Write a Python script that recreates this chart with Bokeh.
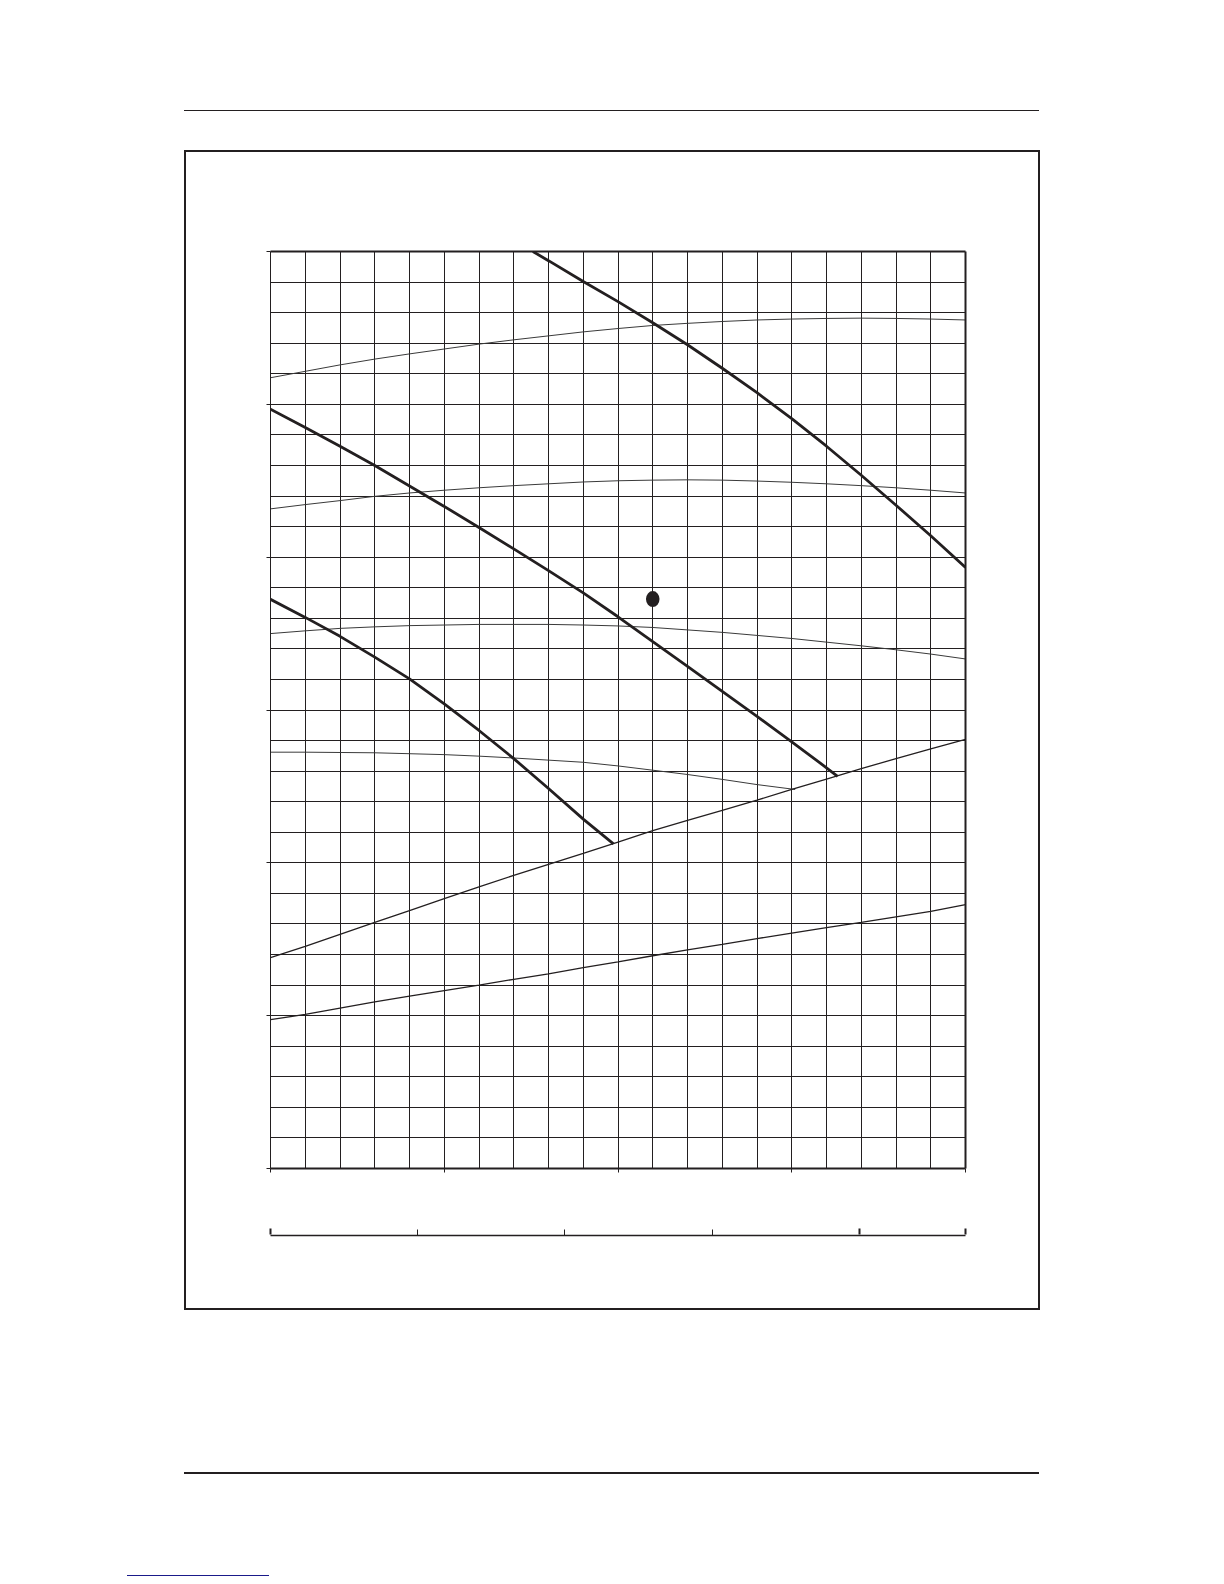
from bokeh.plotting import figure
from bokeh.models import Range1d, LinearAxis, FixedTicker, Div, Spacer
from bokeh.layouts import column, row
from bokeh.embed import file_html
from bokeh.resources import INLINE

INK = "#231f20"

# ---- data (grid units: x = columns 0..20, y = rows 0..30) ----
curve_a_x = [7.55, 8, 9, 10, 11, 12, 13, 14, 15, 16, 17, 18, 19, 20]
curve_a_y = [30.0, 29.7, 29.02, 28.36, 27.67, 26.95, 26.18, 25.38, 24.53, 23.63, 22.68, 21.7, 20.7, 19.66]

curve_b_x = [0, 1, 2, 3, 4, 5, 6, 7, 8, 9, 10, 11, 12, 13, 14, 15, 16, 16.32]
curve_b_y = [24.84, 24.24, 23.63, 23.0, 22.33, 21.66, 20.97, 20.27, 19.56, 18.83, 18.05, 17.24, 16.43, 15.61, 14.79, 13.96, 13.11, 12.83]

curve_c_x = [0, 1, 2, 3, 4, 5, 6, 7, 8, 9, 9.87]
curve_c_y = [18.62, 18.03, 17.41, 16.73, 16.02, 15.2, 14.33, 13.41, 12.43, 11.43, 10.62]

cols = list(range(21))
curve_d_y = [25.87, 26.08, 26.29, 26.48, 26.65, 26.81, 26.97, 27.11, 27.24, 27.37, 27.48,
             27.58, 27.65, 27.71, 27.76, 27.79, 27.81, 27.82, 27.81, 27.79, 27.76]
curve_e_y = [21.58, 21.72, 21.85, 21.99, 22.1, 22.19, 22.27, 22.34, 22.4, 22.46, 22.5,
             22.52, 22.53, 22.52, 22.49, 22.45, 22.4, 22.34, 22.27, 22.19, 22.1]
curve_f_y = [17.5, 17.59, 17.67, 17.72, 17.76, 17.78, 17.8, 17.8, 17.8, 17.78, 17.75,
             17.7, 17.62, 17.54, 17.44, 17.34, 17.22, 17.1, 16.97, 16.83, 16.67]

curve_g_x = [0, 1, 2, 3, 4, 5, 6, 7, 8, 9, 10, 11, 12, 13, 14, 15.1]
curve_g_y = [13.62, 13.62, 13.61, 13.6, 13.57, 13.54, 13.49, 13.43, 13.36, 13.29, 13.17,
             13.03, 12.89, 12.73, 12.56, 12.4]

line_h_y = [6.9, 7.27, 7.66, 8.05, 8.44, 8.83, 9.21, 9.59, 9.95, 10.31, 10.68,
            11.05, 11.39, 11.72, 12.05, 12.4, 12.74, 13.08, 13.41, 13.73, 14.04]
line_i_y = [4.87, 5.04, 5.25, 5.45, 5.64, 5.82, 6.0, 6.19, 6.37, 6.57, 6.76,
            6.96, 7.15, 7.33, 7.52, 7.7, 7.88, 8.05, 8.23, 8.41, 8.63]

point_x = [11.0]
point_y = [18.63]

x_major = [0, 5, 10, 15, 20]
y_major = [0, 5, 10, 15, 20, 25, 30]
sec_thin_ticks = [1, 2, 3]
sec_thick_ticks = [0, 4, 4.72]


def blank(ticks):
    return {t: "" for t in ticks}


# ---- main chart ----
p = figure(width=852, height=1046, output_backend="svg", toolbar_location=None,
           x_range=Range1d(0, 20), y_range=Range1d(0, 30),
           x_axis_location=None, y_axis_location=None,
           min_border_left=84, min_border_right=73, min_border_top=99, min_border_bottom=30)
p.outline_line_color = None
p.background_fill_color = "white"
p.border_fill_color = "white"

bottom = LinearAxis(ticker=FixedTicker(ticks=x_major), major_label_overrides=blank(x_major))
bottom.axis_line_width = 2
bottom.axis_line_color = INK
bottom.major_tick_line_color = INK
bottom.major_tick_out = 4
bottom.major_tick_in = 0
bottom.minor_tick_line_color = None
p.add_layout(bottom, "below")

left = LinearAxis(ticker=FixedTicker(ticks=y_major), major_label_overrides=blank(y_major))
left.axis_line_width = 1
left.axis_line_color = INK
left.major_tick_line_color = INK
left.major_tick_out = 4
left.major_tick_in = 0
left.minor_tick_line_color = None
p.add_layout(left, "left")

for side in ("above", "right"):
    ax = LinearAxis(ticker=FixedTicker(ticks=[]))
    ax.axis_line_width = 2
    ax.axis_line_color = INK
    ax.major_tick_line_color = None
    ax.minor_tick_line_color = None
    p.add_layout(ax, side)

p.xgrid.ticker = FixedTicker(ticks=cols)
p.ygrid.ticker = FixedTicker(ticks=list(range(31)))
for g in (p.xgrid, p.ygrid):
    g.grid_line_color = INK
    g.grid_line_width = 1
    g.grid_line_alpha = 1

for yy in (curve_d_y, curve_e_y, curve_f_y):
    p.line(cols, yy, line_color="#3a3a3a", line_width=1)
p.line(curve_g_x, curve_g_y, line_color="#3a3a3a", line_width=1)
p.line(cols, line_h_y, line_color=INK, line_width=1.3)
p.line(cols, line_i_y, line_color=INK, line_width=1.3)

for xx, yy in ((curve_a_x, curve_a_y), (curve_b_x, curve_b_y), (curve_c_x, curve_c_y)):
    p.line(xx, yy, line_color=INK, line_width=2.8)

p.ellipse(x=point_x, y=point_y, width=0.39, height=0.52, fill_color=INK, line_color=None)

# ---- secondary flow scale below the chart ----
p2 = figure(width=852, height=110, output_backend="svg", toolbar_location=None,
            x_range=Range1d(0, 4.72), y_range=Range1d(0, 1),
            x_axis_location=None, y_axis_location=None,
            min_border_left=84, min_border_right=73, min_border_top=36, min_border_bottom=73)
p2.outline_line_color = None
p2.xgrid.visible = False
p2.ygrid.visible = False
p2.background_fill_color = "white"
p2.border_fill_color = "white"

sec = LinearAxis(ticker=FixedTicker(ticks=sec_thin_ticks), major_label_overrides=blank(sec_thin_ticks))
sec.axis_line_width = 1.5
sec.axis_line_color = INK
sec.major_tick_line_color = INK
sec.major_tick_line_width = 1
sec.major_tick_in = 6
sec.major_tick_out = 0
sec.minor_tick_line_color = None
p2.add_layout(sec, "below")

sec2 = LinearAxis(ticker=FixedTicker(ticks=sec_thick_ticks), major_label_overrides=blank(sec_thick_ticks))
sec2.axis_line_color = None
sec2.major_tick_line_color = INK
sec2.major_tick_line_width = 2
sec2.major_tick_out = 6
sec2.major_tick_in = 0
sec2.minor_tick_line_color = None
p2.add_layout(sec2, "above")

# ---- page furniture (page frame, rules) ----
header = Div(width=1208, height=152, margin=0,
             text='<div style="position:relative;width:1208px;height:152px">'
                  '<div style="position:absolute;left:184px;top:110px;width:855px;height:1px;background:%s"></div>'
                  '<div style="position:absolute;left:184px;top:150px;width:856px;height:2px;background:%s"></div>'
                  '</div>' % (INK, INK))
vline_l = Div(width=2, height=1156, margin=0, styles={"background": INK})
vline_r = Div(width=2, height=1156, margin=0, styles={"background": INK})
footer = Div(width=1208, height=270, margin=0,
             text='<div style="position:relative;width:1208px;height:270px">'
                  '<div style="position:absolute;left:184px;top:0px;width:856px;height:2px;background:%s"></div>'
                  '<div style="position:absolute;left:184px;top:164px;width:855px;height:2px;background:%s"></div>'
                  '<div style="position:absolute;left:127px;top:267px;width:142px;height:1px;background:#1a1a8a"></div>'
                  '</div>' % (INK, INK))

middle = row(Spacer(width=184, height=1156), vline_l, column(p, p2), vline_r)
page = column(header, middle, footer)

open("out.html", "w").write(file_html(page, INLINE))
